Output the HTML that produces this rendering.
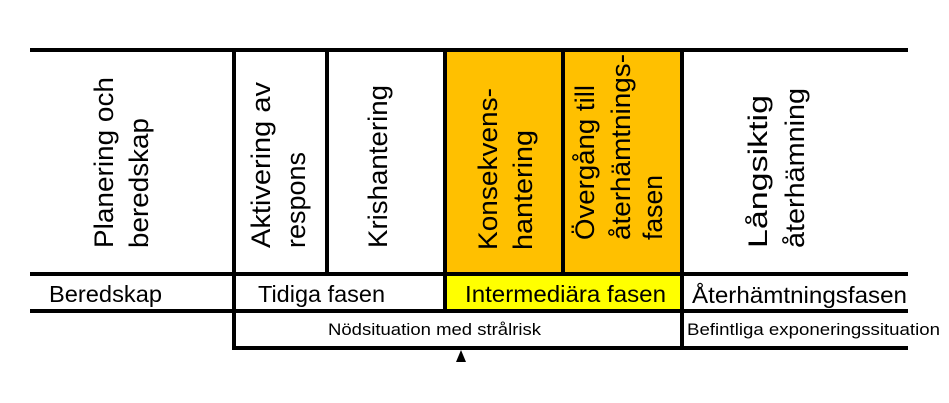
<!DOCTYPE html>
<html><head><meta charset="utf-8"><style>body{margin:0;background:#fff}svg{display:block}</style></head>
<body>
<svg width="949" height="403" viewBox="0 0 949 403" xmlns="http://www.w3.org/2000/svg" font-family="Liberation Sans, Arial, sans-serif">
<rect x="446" y="52" width="235" height="222" fill="#ffc000"/>
<rect x="446" y="276" width="235" height="35" fill="#ffff00"/>
<g stroke="#000" stroke-width="4" fill="none">
<line x1="30" y1="50" x2="908" y2="50"/>
<line x1="30" y1="274" x2="908" y2="274"/>
<line x1="30" y1="311" x2="908" y2="311"/>
<line x1="232" y1="348" x2="908" y2="348"/>
<line x1="234" y1="50" x2="234" y2="350"/>
<line x1="327" y1="50" x2="327" y2="274"/>
<line x1="445" y1="50" x2="445" y2="311"/>
<line x1="563" y1="50" x2="563" y2="274"/>
<line x1="682" y1="50" x2="682" y2="350"/>
</g>
<polygon points="461,350 456,362 466,362" fill="#000"/>
<g font-size="27" fill="#000">
<text transform="translate(113,248) rotate(-90)" textLength="171" lengthAdjust="spacingAndGlyphs">Planering och</text>
<text transform="translate(148,248) rotate(-90)" textLength="130" lengthAdjust="spacingAndGlyphs">beredskap</text>
<text transform="translate(270,248) rotate(-90)" textLength="166" lengthAdjust="spacingAndGlyphs">Aktivering av</text>
<text transform="translate(305,248) rotate(-90)" textLength="96" lengthAdjust="spacingAndGlyphs">respons</text>
<text transform="translate(387,248) rotate(-90)" textLength="163" lengthAdjust="spacingAndGlyphs">Krishantering</text>
<text transform="translate(497,250) rotate(-90)" textLength="162" lengthAdjust="spacingAndGlyphs">Konsekvens-</text>
<text transform="translate(532,250) rotate(-90)" textLength="120" lengthAdjust="spacingAndGlyphs">hantering</text>
<text transform="translate(594,240) rotate(-90)" textLength="155" lengthAdjust="spacingAndGlyphs">Övergång till</text>
<text transform="translate(630,240) rotate(-90)" textLength="186" lengthAdjust="spacingAndGlyphs">återhämtnings-</text>
<text transform="translate(662,240) rotate(-90)" textLength="65" lengthAdjust="spacingAndGlyphs">fasen</text>
<text transform="translate(767,248) rotate(-90)" textLength="153" lengthAdjust="spacingAndGlyphs">Långsiktig</text>
<text transform="translate(804,248) rotate(-90)" textLength="160" lengthAdjust="spacingAndGlyphs">återhämning</text>
</g>
<g font-size="23" fill="#000">
<text x="49" y="302" textLength="113" lengthAdjust="spacingAndGlyphs">Beredskap</text>
<text x="258" y="302" textLength="127" lengthAdjust="spacingAndGlyphs">Tidiga fasen</text>
<text x="465" y="302" textLength="201" lengthAdjust="spacingAndGlyphs">Intermediära fasen</text>
<text x="692" y="303" textLength="215" lengthAdjust="spacingAndGlyphs">Återhämtningsfasen</text>
</g>
<g font-size="17" fill="#000">
<text x="328" y="335" textLength="213" lengthAdjust="spacingAndGlyphs">Nödsituation med strålrisk</text>
<text x="687" y="335" textLength="253" lengthAdjust="spacingAndGlyphs">Befintliga exponeringssituation</text>
</g>
</svg>
</body></html>
